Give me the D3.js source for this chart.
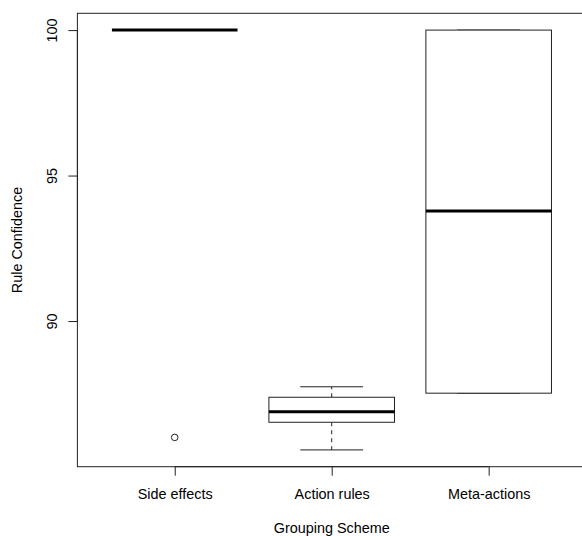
<!DOCTYPE html>
<html lang="en">
<head>
<meta charset="UTF-8">
<title>Rule Confidence by Grouping Scheme</title>
<style>
  body { margin: 0; background: #fff; }
  svg text { font-family: "Liberation Sans", Arial, Helvetica, sans-serif; fill: #000; }
</style>
<script src="https://d3js.org/d3.v7.min.js"></script>
</head>
<body>
<div id="chart"></div>
<script>
// box statistics
var groups    = ["Side effects", "Action rules", "Meta-actions"];
var whiskerLo = [100, 85.57, 87.52];
var q1        = [100, 86.52, 87.52];
var medians   = [100, 86.88, 93.78];
var q3        = [100, 87.38, 100];
var whiskerHi = [100, 87.74, 100];
var outliers  = [[86.0], [], []];
var yTicks    = [90, 95, 100];

var W = 582, H = 536;
var margin = {top: 13.3, right: -4, bottom: 69.3, left: 77.4};
var width = W - margin.left - margin.right,
    height = H - margin.top - margin.bottom;

var svg = d3.select("#chart").append("svg")
    .attr("width", W).attr("height", H);
var g = svg.append("g")
    .attr("transform", "translate(" + margin.left + "," + margin.top + ")");

// R style: xlim 0.5..3.5 extended by 4%
var x = d3.scaleLinear().domain([0.38, 3.62]).range([0, width]);
var lo = d3.min(whiskerLo.concat(d3.merge(outliers))), hi = d3.max(whiskerHi);
var pad = (hi - lo) * 0.04;
var y = d3.scaleLinear().domain([lo - pad, hi + pad]).range([height, 0]);

var boxW = 0.8, capW = 0.4;

var data = groups.map(function(name, i) {
  return {name: name, pos: i + 1, lo: whiskerLo[i], q1: q1[i], med: medians[i],
          q3: q3[i], hi: whiskerHi[i], out: outliers[i]};
});

// frame
g.append("rect")
  .attr("x", 0).attr("y", 0).attr("width", width).attr("height", height)
  .attr("fill", "none").attr("stroke", "#222").attr("stroke-width", 1);

var box = g.selectAll(".box").data(data).enter().append("g").attr("class", "box");

// whiskers (dashed)
box.append("line")
  .attr("x1", d => x(d.pos)).attr("x2", d => x(d.pos))
  .attr("y1", d => y(d.q3)).attr("y2", d => y(d.hi))
  .attr("stroke", "#222").attr("stroke-dasharray", "4,4");
box.append("line")
  .attr("x1", d => x(d.pos)).attr("x2", d => x(d.pos))
  .attr("y1", d => y(d.q1)).attr("y2", d => y(d.lo))
  .attr("stroke", "#222").attr("stroke-dasharray", "4,4");

// caps
["lo", "hi"].forEach(function(k) {
  box.append("line")
    .attr("x1", d => x(d.pos - capW / 2)).attr("x2", d => x(d.pos + capW / 2))
    .attr("y1", d => y(d[k])).attr("y2", d => y(d[k]))
    .attr("stroke", "#222").attr("stroke-width", 1);
});

// boxes
box.append("rect")
  .attr("x", d => x(d.pos - boxW / 2))
  .attr("width", d => x(d.pos + boxW / 2) - x(d.pos - boxW / 2))
  .attr("y", d => y(d.q3))
  .attr("height", d => y(d.q1) - y(d.q3))
  .attr("fill", "#fff").attr("stroke", "#222").attr("stroke-width", 1);

// medians
box.append("line")
  .attr("x1", d => x(d.pos - boxW / 2)).attr("x2", d => x(d.pos + boxW / 2))
  .attr("y1", d => y(d.med)).attr("y2", d => y(d.med))
  .attr("stroke", "#000").attr("stroke-width", 3);

// outliers
box.selectAll("circle").data(d => d.out.map(v => ({pos: d.pos, v: v})))
  .enter().append("circle")
  .attr("cx", d => x(d.pos)).attr("cy", d => y(d.v)).attr("r", 3.3)
  .attr("fill", "none").attr("stroke", "#222").attr("stroke-width", 1);

// x axis
var xAxis = g.append("g")
  .attr("transform", "translate(0," + height + ")")
  .call(d3.axisBottom(x).tickValues([1, 2, 3]).tickSize(9).tickSizeOuter(0)
        .tickFormat((d, i) => groups[i]));
xAxis.select(".domain").attr("stroke", "#222")
  .attr("d", "M" + x(1) + ",0H" + x(3));
xAxis.selectAll(".tick line").attr("stroke", "#222");
xAxis.selectAll(".tick text").attr("dy", null).attr("y", 32.3)
  .style("font-size", "14.4px");

// y axis
var yAxis = g.append("g")
  .call(d3.axisLeft(y).tickValues(yTicks).tickSize(9).tickSizeOuter(0));
yAxis.select(".domain").attr("stroke", "#222")
  .attr("d", "M0," + y(yTicks[0]) + "V" + y(yTicks[yTicks.length - 1]));
yAxis.selectAll(".tick line").attr("stroke", "#222");
yAxis.selectAll(".tick text")
  .attr("x", null).attr("dy", null).attr("y", null)
  .attr("text-anchor", "middle")
  .attr("transform", "translate(-20,0) rotate(-90)")
  .style("font-size", "14.4px");

// axis titles
svg.append("text")
  .attr("x", margin.left + width / 2).attr("y", 533)
  .attr("text-anchor", "middle").style("font-size", "14.4px")
  .text("Grouping Scheme");
svg.append("text")
  .attr("transform", "translate(22," + (margin.top + height / 2) + ") rotate(-90)")
  .attr("text-anchor", "middle").style("font-size", "14.4px")
  .text("Rule Confidence");
</script>
</body>
</html>
